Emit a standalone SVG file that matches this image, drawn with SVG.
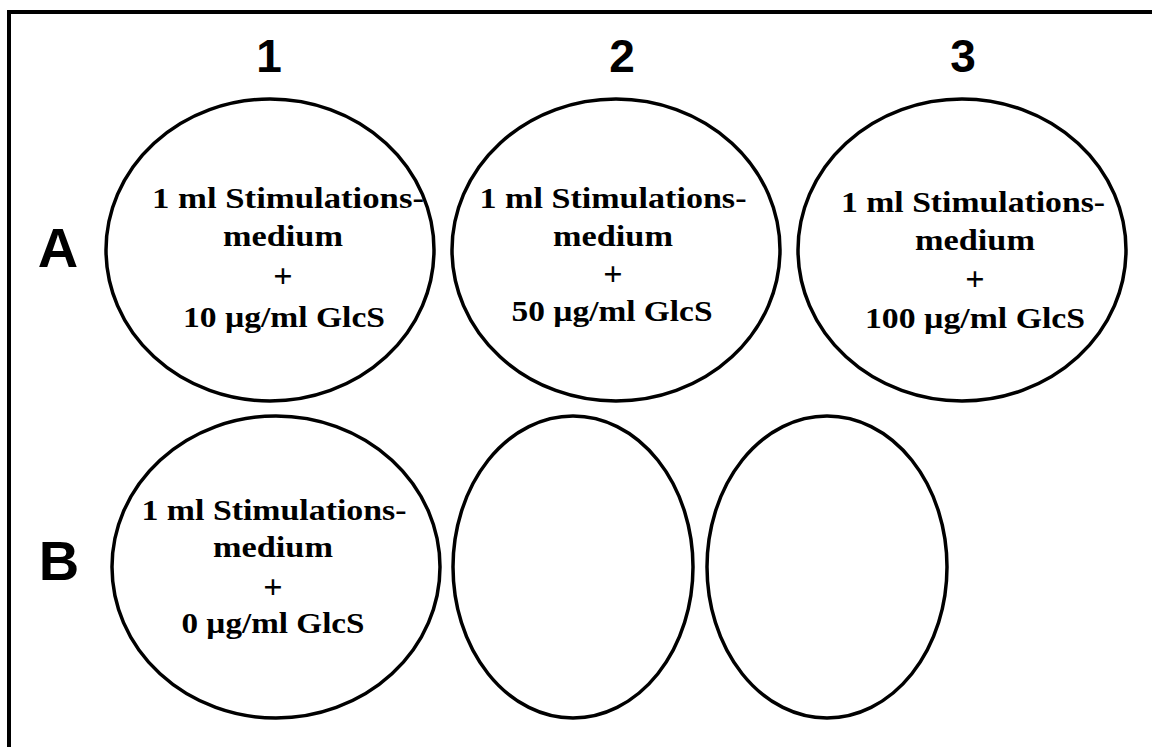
<svg xmlns="http://www.w3.org/2000/svg" width="1152" height="747" viewBox="0 0 1152 747">
  <style>
    .well { fill: #ffffff; stroke: #000000; stroke-width: 3.5; }
    .frame { fill: none; stroke: #000000; stroke-width: 4; }
    .col { font-family: "Liberation Sans", Arial, sans-serif; font-weight: bold; font-size: 46px; text-anchor: middle; fill: #000; }
    .row { font-family: "Liberation Sans", Arial, sans-serif; font-weight: bold; font-size: 56px; text-anchor: middle; fill: #000; }
    .lbl { font-family: "Liberation Serif", "Times New Roman", serif; font-weight: bold; font-size: 30px; text-anchor: middle; fill: #000; }
    .plus { font-size: 34px; }
  </style>
  <rect width="1152" height="747" fill="#ffffff"/>
  <!-- plate outline (top and left edges) -->
  <path class="frame" d="M9,747 V12 H1152"/>

  <!-- column and row headers -->
  <g id="headers">
    <text class="col" x="269" y="72">1</text>
    <text class="col" x="622" y="72">2</text>
    <text class="col" x="963" y="72">3</text>
    <text class="row" x="58" y="267">A</text>
    <text class="row" x="59" y="580">B</text>
  </g>

  <!-- row A -->
  <g id="well-A1">
    <ellipse class="well" cx="270" cy="250" rx="164" ry="151"/>
    <text class="lbl" x="288" y="208" textLength="272" lengthAdjust="spacingAndGlyphs">1 ml Stimulations-</text>
    <text class="lbl" x="283" y="246" textLength="120" lengthAdjust="spacingAndGlyphs">medium</text>
    <text class="lbl plus" x="283" y="287">+</text>
    <text class="lbl" x="284" y="327" textLength="202" lengthAdjust="spacingAndGlyphs">10 µg/ml GlcS</text>
  </g>
  <g id="well-A2">
    <ellipse class="well" cx="616" cy="250" rx="164" ry="151"/>
    <text class="lbl" x="613" y="208" textLength="267" lengthAdjust="spacingAndGlyphs">1 ml Stimulations-</text>
    <text class="lbl" x="613" y="246" textLength="120" lengthAdjust="spacingAndGlyphs">medium</text>
    <text class="lbl plus" x="613" y="285">+</text>
    <text class="lbl" x="612" y="321" textLength="201" lengthAdjust="spacingAndGlyphs">50 µg/ml GlcS</text>
  </g>
  <g id="well-A3">
    <ellipse class="well" cx="962" cy="250" rx="164" ry="151"/>
    <text class="lbl" x="973" y="212" textLength="264" lengthAdjust="spacingAndGlyphs">1 ml Stimulations-</text>
    <text class="lbl" x="975" y="250" textLength="120" lengthAdjust="spacingAndGlyphs">medium</text>
    <text class="lbl plus" x="975" y="290">+</text>
    <text class="lbl" x="975" y="328" textLength="220" lengthAdjust="spacingAndGlyphs">100 µg/ml GlcS</text>
  </g>

  <!-- row B -->
  <g id="well-B1">
    <ellipse class="well" cx="276" cy="567" rx="164" ry="151"/>
    <text class="lbl" x="274" y="520" textLength="265" lengthAdjust="spacingAndGlyphs">1 ml Stimulations-</text>
    <text class="lbl" x="273" y="557" textLength="120" lengthAdjust="spacingAndGlyphs">medium</text>
    <text class="lbl plus" x="273" y="598">+</text>
    <text class="lbl" x="273" y="633" textLength="183" lengthAdjust="spacingAndGlyphs">0 µg/ml GlcS</text>
  </g>
  <g id="well-B2">
    <ellipse class="well" cx="573" cy="567" rx="120" ry="151"/>
  </g>
  <g id="well-B3">
    <ellipse class="well" cx="827" cy="567" rx="120" ry="151"/>
  </g>

  <g id="connectors"/>
</svg>
